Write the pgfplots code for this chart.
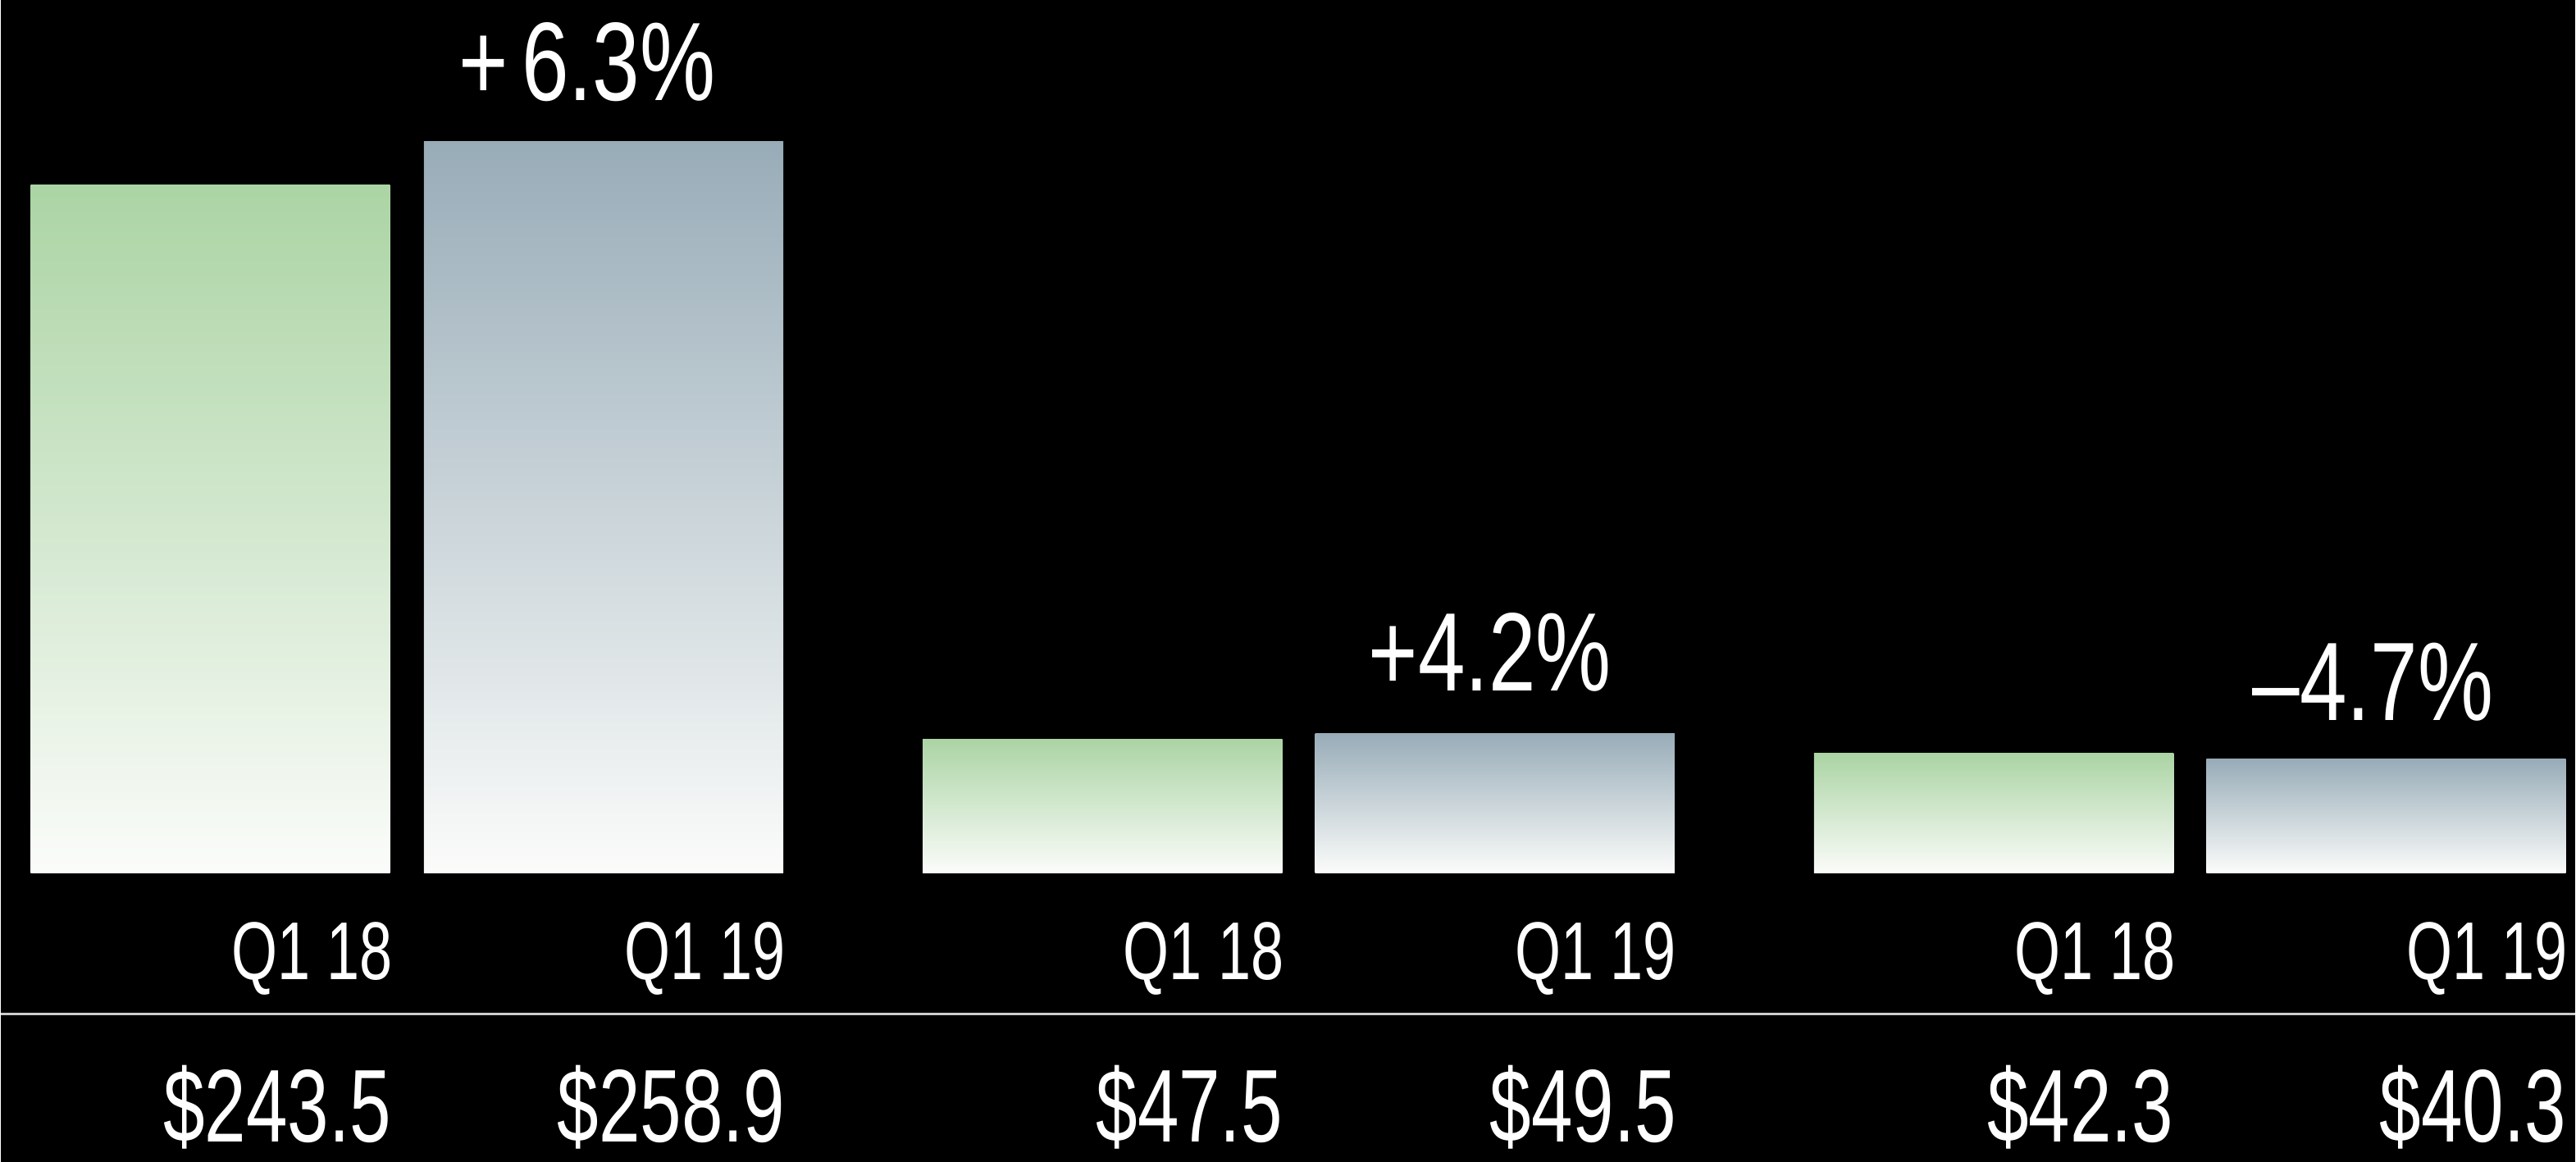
\documentclass[border=0pt]{standalone}
\usepackage{fontspec}
\setmainfont{Liberation Sans}[FakeStretch=0.72]
\newfontfamily\pctfont{Liberation Sans}[FakeStretch=0.76]
\usepackage{pgfplots}
\pgfplotsset{compat=1.18}
\definecolor{barA}{RGB}{171,212,164}
\definecolor{barB}{RGB}{152,172,184}
\definecolor{barEnd}{RGB}{251,252,250}
\definecolor{rulec}{RGB}{205,205,205}
\tikzset{
  lbl/.style={anchor=base east, inner sep=0pt, text=white, font=\fontsize{25}{25}\selectfont},
  val/.style={anchor=base east, inner sep=0pt, text=white, font=\fontsize{31.5}{32}\selectfont},
  pct/.style={anchor=base, inner sep=0pt, text=white, font=\pctfont\fontsize{34}{34}\selectfont}}
\pgfplotsset{
  grn/.style={draw=none, bar shift=0pt, top color=barA, bottom color=barEnd},
  gry/.style={draw=none, bar shift=0pt, top color=barB, bottom color=barEnd}}
\begin{document}
\begin{tikzpicture}
\fill[black] (0,0) rectangle (784pt,354pt);
\begin{axis}[at={(0,0)}, anchor=south west, scale only axis,
  width=784pt, height=354pt,
  xmin=0, xmax=1568, ymin=-102.2, ymax=308.9,
  hide axis, clip=false, ybar, bar width=219]
% Q1 18 (green) and Q1 19 (grey) for each group
\addplot[grn] coordinates {(127.5,243.5)};
\addplot[gry] coordinates {(367,258.9)};
\addplot[grn] coordinates {(671,47.5)};
\addplot[gry] coordinates {(910,49.5)};
\addplot[grn] coordinates {(1214,42.3)};
\addplot[gry] coordinates {(1453,40.3)};
\draw[rulec, line width=0.7pt] (axis cs:0,-49.9) -- (axis cs:1568,-49.9);
\node[lbl] at (axis cs:239,-37.7) {Q1 18};
\node[lbl] at (axis cs:478,-37.7) {Q1 19};
\node[lbl] at (axis cs:782,-37.7) {Q1 18};
\node[lbl] at (axis cs:1021,-37.7) {Q1 19};
\node[lbl] at (axis cs:1325,-37.7) {Q1 18};
\node[lbl] at (axis cs:1564,-37.7) {Q1 19};
\node[val] at (axis cs:238,-95.2) {\$243.5};
\node[val] at (axis cs:478,-95.2) {\$258.9};
\node[val] at (axis cs:781,-95.2) {\$47.5};
\node[val] at (axis cs:1021,-95.2) {\$49.5};
\node[val] at (axis cs:1324,-95.2) {\$42.3};
\node[val] at (axis cs:1563,-95.2) {\$40.3};
\node[pct] at (axis cs:357,273.5) {+\kern0.12em6.3\%};
\node[pct] at (axis cs:907,64.5) {+4.2\%};
\node[pct] at (axis cs:1445,54.0) {–4.7\%};
\end{axis}
\end{tikzpicture}
\end{document}
